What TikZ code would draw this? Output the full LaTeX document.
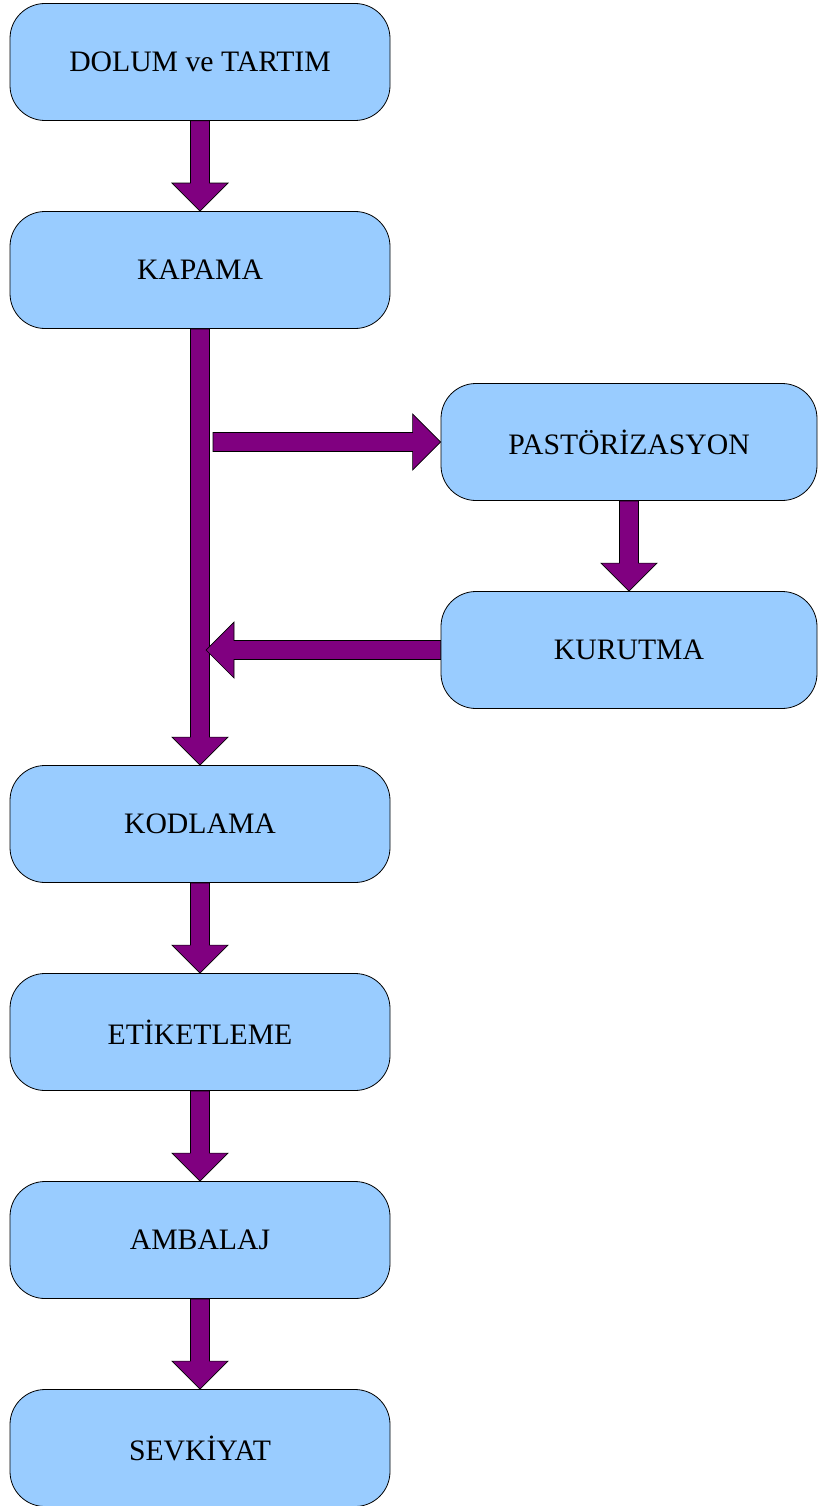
\documentclass[tikz,border=0pt]{standalone}
\usepackage{fontspec}
\setmainfont{Liberation Serif}
\usetikzlibrary{calc}

\definecolor{boxblue}{RGB}{153,204,255}
\definecolor{flowpurple}{RGB}{128,0,128}

\tikzset{
  stepbox/.style={draw=black, line width=0.8pt, fill=boxblue, rounded corners=35pt,
    minimum width=380pt, minimum height=117pt, inner sep=0pt,
    font=\fontsize{29.7}{35}\selectfont},
  flowarrow/.style={draw=black, line width=0.7pt, fill=flowpurple, line join=miter}
}

% block arrow from #1 to #2
\newcommand\flow[2]{%
  \coordinate (fh) at ($(#2)!28pt!(#1)$);
  \draw[flowarrow] ($(#1)!9.5pt!90:(#2)$) -- ($(fh)!9.5pt!-90:(#1)$)
    -- ($(fh)!28pt!-90:(#1)$) -- (#2) -- ($(fh)!28pt!90:(#1)$)
    -- ($(fh)!9.5pt!90:(#1)$) -- ($(#1)!9.5pt!-90:(#2)$) -- cycle;}

\begin{document}
\begin{tikzpicture}[x=1pt, y=-1pt]
  \useasboundingbox (0,0) rectangle (817,1506);

  % main column
  \foreach \name/\y/\txt in {dolum/62/DOLUM ve TARTIM, kapama/270/KAPAMA,
      kodlama/824/KODLAMA, etiket/1032/ETİKETLEME, ambalaj/1240/AMBALAJ,
      sevk/1448/SEVKİYAT}
    \node[stepbox] (\name) at (200,\y) {\txt};

  % side branch
  \node[stepbox, minimum width=376pt] (past) at (629,442) {PASTÖRİZASYON};
  \node[stepbox, minimum width=376pt] (kuru) at (629,650) {KURUTMA};

  \coordinate (split) at (213,442);
  \coordinate (join) at (206,650);

  \flow{dolum.south}{kapama.north}
  \flow{kapama.south}{kodlama.north}
  \flow{split}{past.west}
  \flow{past.south}{kuru.north}
  \flow{kuru.west}{join}
  \flow{kodlama.south}{etiket.north}
  \flow{etiket.south}{ambalaj.north}
  \flow{ambalaj.south}{sevk.north}

\end{tikzpicture}
\end{document}
